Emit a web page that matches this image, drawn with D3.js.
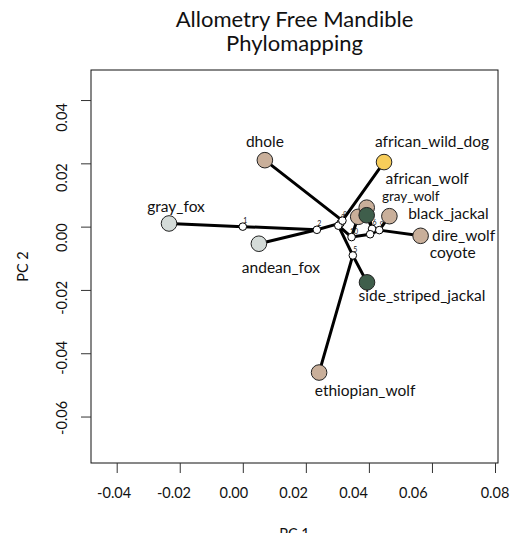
<!DOCTYPE html>
<html>
<head>
<meta charset="utf-8">
<script src="https://cdn.jsdelivr.net/npm/d3@7"></script>
<style>
  html, body { margin: 0; padding: 0; background: #fff; }
  svg { display: block; }
  text { font-family: Lato, "Open Sans", sans-serif; fill: #111; }
</style>
</head>
<body>
<svg id="chart" width="513" height="533"></svg>
<script>
// Tip taxa with their PC scores and discrete state
const tipNames = ["gray_fox", "andean_fox", "dhole", "african_wild_dog", "african_wolf",
                  "gray_wolf", "coyote", "black_jackal", "dire_wolf", "side_striped_jackal", "ethiopian_wolf"];
const tipPC1 = [-0.0234, 0.0051, 0.0070, 0.0448, 0.0366, 0.0393, 0.0393, 0.0465, 0.0564, 0.0394, 0.0242];
const tipPC2 = [0.0010, -0.0054, 0.0210, 0.0204, 0.0031, 0.0060, 0.0036, 0.0033, -0.0029, -0.0176, -0.0461];
const tipState = ["s1", "s1", "s2", "s3", "s2", "s2", "s4", "s2", "s2", "s4", "s2"];

// Reconstructed ancestral nodes
const nodeNames = ["n1", "n2", "n3", "n4", "n5", "n6", "n7", "n8", "n9", "n10"];
const nodePC1 = [0.0000, 0.0235, 0.0310, 0.0303, 0.0349, 0.0410, 0.0404, 0.0316, 0.0433, 0.0345];
const nodePC2 = [0.0000, -0.0010, 0.0011, 0.0003, -0.0091, -0.0007, -0.0024, 0.0019, -0.0011, -0.0033];
const nodeLabels = ["1", "2", "3", "4", "5", "6", "7", "8", "9", "10"];

// Tree branches (parent -> child)
const edgeParent = ["n1", "n1", "n2", "n2", "n3", "n3", "n8", "n8", "n4", "n4",
                    "n5", "n5", "n10", "n10", "n7", "n7", "n6", "n6", "n9", "n9"];
const edgeChild  = ["gray_fox", "n2", "andean_fox", "n3", "n8", "n4", "dhole", "african_wild_dog", "n5", "n10",
                    "ethiopian_wolf", "side_striped_jackal", "african_wolf", "n7", "n9", "n6",
                    "gray_wolf", "coyote", "black_jackal", "dire_wolf"];

// Axis ticks
const xTicks = [-0.04, -0.02, 0.00, 0.02, 0.04, 0.06, 0.08];
const xTickLabels = ["-0.04", "-0.02", "0.00", "0.02", "0.04", "0.06", "0.08"];
const yTicks = [0.04, 0.02, 0.00, -0.02, -0.04, -0.06];
const yTickLabels = ["0.04", "0.02", "0.00", "-0.02", "-0.04", "-0.06"];

const titleLines = ["Allometry Free Mandible", "Phylomapping"];
const xTitle = "PC 1";
const yTitle = "PC 2";

// ---- styling / layout ----
const stateColor = { s1: "#d4dbd8", s2: "#c9af9a", s3: "#f7cd5a", s4: "#3f5e4b" };
// label offsets from each tip (px): [dx, dy to baseline, font size]
const labelNudge = {
  gray_fox: [7, -11, 15.5], andean_fox: [22, 29, 15.5], dhole: [0, -13, 15.5],
  african_wild_dog: [48, -15, 15.5], african_wolf: [69, -33, 15.5], gray_wolf: [44, -7, 13.5],
  coyote: [86, 43, 15.5], black_jackal: [59, 3, 15.5], dire_wolf: [43, 5, 15.5],
  side_striped_jackal: [55, 19, 15.5], ethiopian_wolf: [46, 23, 15.5]
};
const tickFont = 14.5;

const plot = { left: 91, right: 498, top: 70, bottom: 463 };
const x = d3.scaleLinear().domain([-0.04815, 0.08095]).range([plot.left, plot.right]);
const y = d3.scaleLinear().domain([-0.07468, 0.04949]).range([plot.bottom, plot.top]);

// Tick labels sit on a slightly tighter frame than the ticks themselves
const labelShrink = 0.949;
const xLab = d3.scaleLinear().domain(x.domain())
  .range(x.range().map(p => 3.4 + labelShrink * p));
const yLab = d3.scaleLinear().domain(y.domain())
  .range(y.range().map(p => 22.6 + labelShrink * p));

const svg = d3.select("#chart");

// Title
svg.append("g").selectAll("text").data(titleLines).join("text")
  .attr("x", (plot.left + plot.right) / 2)
  .attr("y", (d, i) => 27 + i * 24)
  .attr("text-anchor", "middle")
  .attr("font-size", 22)
  .text(d => d);

// Plot frame
svg.append("rect")
  .attr("x", plot.left).attr("y", plot.top)
  .attr("width", plot.right - plot.left).attr("height", plot.bottom - plot.top)
  .attr("fill", "none").attr("stroke", "#111").attr("stroke-width", 1);

// Axes: tick marks from d3 axes
const xAxis = svg.append("g").attr("transform", `translate(0,${plot.bottom})`)
  .call(d3.axisBottom(x).tickValues(xTicks).tickSize(10).tickSizeOuter(0).tickFormat(""));
xAxis.select(".domain").remove();
xAxis.selectAll(".tick line").attr("stroke", "#333");

const yAxis = svg.append("g").attr("transform", `translate(${plot.left},0)`)
  .call(d3.axisLeft(y).tickValues(yTicks).tickSize(10).tickSizeOuter(0).tickFormat(""));
yAxis.select(".domain").remove();
yAxis.selectAll(".tick line").attr("stroke", "#333");

// Tick labels
const lastX = xTicks[xTicks.length - 1];
svg.append("g").selectAll("text").data(xTicks).join("text")
  .attr("x", d => d === lastX ? x(d) : xLab(d))   // last label kept under its tick
  .attr("y", plot.bottom + 35)
  .attr("text-anchor", "middle").attr("font-size", tickFont)
  .text((d, i) => xTickLabels[i]);

svg.append("g").selectAll("text").data(yTicks).join("text")
  .attr("transform", d => `translate(${plot.left - 24},${yLab(d)}) rotate(-90)`)
  .attr("text-anchor", "middle").attr("font-size", tickFont)
  .text((d, i) => yTickLabels[i]);

// Axis titles
svg.append("text").attr("x", (plot.left + plot.right) / 2).attr("y", 539)
  .attr("text-anchor", "middle").attr("font-size", tickFont).text(xTitle);
svg.append("text").attr("transform", `translate(28,${(plot.top + plot.bottom) / 2}) rotate(-90)`)
  .attr("text-anchor", "middle").attr("font-size", tickFont).text(yTitle);

// Position lookup for every vertex in the tree
const pos = new Map();
tipNames.forEach((n, i) => pos.set(n, [tipPC1[i], tipPC2[i]]));
nodeNames.forEach((n, i) => pos.set(n, [nodePC1[i], nodePC2[i]]));

const edges = edgeParent.map((p, i) => ({ p, c: edgeChild[i] }));

// Branches
svg.append("g").selectAll("line").data(edges).join("line")
  .attr("x1", d => x(pos.get(d.p)[0])).attr("y1", d => y(pos.get(d.p)[1]))
  .attr("x2", d => x(pos.get(d.c)[0])).attr("y2", d => y(pos.get(d.c)[1]))
  .attr("stroke", "#000").attr("stroke-width", 3).attr("stroke-linecap", "round");

// Node numbers
svg.append("g").selectAll("text").data(nodeNames).join("text")
  .attr("x", (d, i) => x(nodePC1[i]) + 2.5)
  .attr("y", (d, i) => y(nodePC2[i]) - 3.5)
  .attr("text-anchor", "middle").attr("font-size", 7).attr("fill", "#222")
  .text((d, i) => nodeLabels[i]);

// Ancestral nodes
svg.append("g").selectAll("circle").data(nodeNames).join("circle")
  .attr("cx", (d, i) => x(nodePC1[i])).attr("cy", (d, i) => y(nodePC2[i]))
  .attr("r", 3.8).attr("fill", "#fff").attr("stroke", "#000").attr("stroke-width", 1);

// Tips
svg.append("g").selectAll("circle").data(tipNames).join("circle")
  .attr("cx", (d, i) => x(tipPC1[i])).attr("cy", (d, i) => y(tipPC2[i]))
  .attr("r", 7.8).attr("fill", (d, i) => stateColor[tipState[i]])
  .attr("stroke", "#222").attr("stroke-width", 1);

// Tip labels
svg.append("g").selectAll("text").data(tipNames).join("text")
  .attr("x", (d, i) => x(tipPC1[i]) + labelNudge[d][0])
  .attr("y", (d, i) => y(tipPC2[i]) + labelNudge[d][1])
  .attr("text-anchor", "middle")
  .attr("font-size", d => labelNudge[d][2])
  .attr("fill", "#222")
  .text(d => d);
</script>
</body>
</html>
